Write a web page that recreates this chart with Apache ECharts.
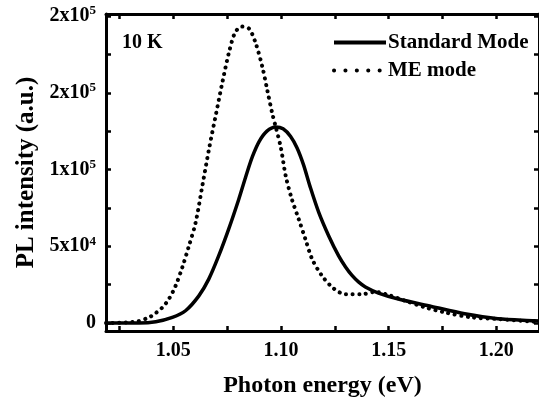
<!DOCTYPE html>
<html>
<head>
<meta charset="utf-8">
<script src="https://cdn.jsdelivr.net/npm/echarts@6/dist/echarts.min.js"></script>
<style>html,body{margin:0;padding:0;background:#fff;}#c{width:539px;height:403px;}</style>
</head>
<body>
<div id="c"></div>
<script>
// ---- data ----
var energyStd = [1.0188, 1.0342, 1.0419, 1.0496, 1.0557, 1.0619, 1.0665, 1.0711, 1.0757, 1.0804, 1.0836, 1.0868, 1.0900, 1.0935, 1.0976, 1.1010, 1.1045, 1.1075, 1.1105, 1.1135, 1.1176, 1.1222, 1.1268, 1.1300, 1.1330, 1.1360, 1.1392, 1.1453, 1.1545, 1.1699, 1.1853, 1.2007, 1.2177, 1.2198];
var intensityStd = [0, 0, 850, 3700, 8000, 17700, 28600, 43700, 61000, 80500, 95000, 108500, 118500, 125000, 127700, 126500, 121500, 114000, 103000, 89000, 71900, 56700, 43700, 36500, 31000, 26800, 23500, 19500, 15600, 10800, 6000, 2800, 1500, 1300];

var energyME = [1.0188, 1.0327, 1.0388, 1.0419, 1.0450, 1.0480, 1.0511, 1.0542, 1.0573, 1.0604, 1.0636, 1.0668, 1.0699, 1.0730, 1.0761, 1.0788, 1.0819, 1.0853, 1.0884, 1.0914, 1.0937, 1.0960, 1.0976, 1.0999, 1.1022, 1.1050, 1.1083, 1.1114, 1.1145, 1.1191, 1.1245, 1.1299, 1.1376, 1.1438, 1.1500, 1.1576, 1.1669, 1.1761, 1.1884, 1.2007, 1.2177, 1.2198];
var intensityME = [0, 850, 3700, 6500, 10200, 15600, 24200, 36200, 50200, 65400, 90000, 114700, 136400, 158000, 177500, 189400, 193100, 191600, 181800, 166700, 151500, 136400, 127700, 114700, 96000, 81000, 67500, 54500, 41600, 30700, 22500, 18800, 18800, 20300, 18200, 14500, 10200, 6900, 3700, 2600, 850, 700];

var xTickValues = [1.025, 1.05, 1.075, 1.10, 1.125, 1.15, 1.175, 1.20];
var xLabelValues = [1.05, 1.10, 1.15, 1.20];
var yTickValues = [0, 25000, 50000, 75000, 100000, 125000, 150000, 175000, 200000];
var yLabelValues = [0, 50000, 100000, 150000, 200000];
var yLabelTexts = ['0', '5x10{sup|4}', '1x10{sup|5}', '2x10{sup|5}', '2x10{sup|5}'];
var seriesNames = ['Standard Mode', 'ME mode'];
var annotation = '10 K';

function pairs(xs, ys) { return xs.map(function (x, i) { return [x, ys[i]]; }); }

var FONT = "'Liberation Serif', 'Times New Roman', serif";
function axLine() { return { show: true, onZero: false, lineStyle: { color: '#000', width: 3 } }; }
function axTick(vals) { return { show: true, inside: true, length: 5, customValues: vals, lineStyle: { color: '#000', width: 2.5 } }; }
var solidStyle = { color: '#000', width: 3.5 };
var dotStyle = { color: '#000', width: 4, type: [0.1, 6.5], cap: 'round' };

var chart = echarts.init(document.getElementById('c'), null, { renderer: 'canvas' });
chart.setOption({
  animation: false,
  backgroundColor: '#fff',
  title: {
    text: annotation, left: 122, top: 33, padding: 0,
    textStyle: { fontFamily: FONT, fontWeight: 'bold', fontSize: 20, color: '#000' }
  },
  legend: {
    orient: 'vertical', left: 332, top: 32, itemGap: 7, padding: 0,
    itemWidth: 52, itemHeight: 12,
    itemStyle: { opacity: 0 },
    data: [
      { name: seriesNames[0], lineStyle: { color: '#000', width: 4 } },
      { name: seriesNames[1], lineStyle: { color: '#000', width: 4, type: [0.1, 11.3], cap: 'round' } }
    ],
    textStyle: { fontFamily: FONT, fontWeight: 'bold', fontSize: 21, color: '#000', padding: [0, 0, 0, -3] }
  },
  grid: { left: 106, right: -2, top: 14, bottom: 71, containLabel: false },
  xAxis: [{
    type: 'value', min: 1.0188, max: 1.2198, position: 'bottom',
    name: 'Photon energy (eV)', nameLocation: 'middle', nameGap: 43,
    nameTextStyle: { fontFamily: FONT, fontWeight: 'bold', fontSize: 24, color: '#000' },
    axisLine: axLine(),
    axisTick: axTick(xTickValues),
    axisLabel: { show: true, customValues: xLabelValues, margin: 10,
      formatter: function (v) { return Number(v).toFixed(2); },
      fontFamily: FONT, fontWeight: 'bold', fontSize: 20, color: '#000' },
    splitLine: { show: false }
  }, {
    type: 'value', min: 1.0188, max: 1.2198, position: 'top',
    axisLine: axLine(),
    axisTick: axTick(xTickValues),
    axisLabel: { show: false }, splitLine: { show: false }
  }],
  yAxis: [{
    type: 'value', min: -5200, max: 201300, position: 'left',
    name: 'PL intensity (a.u.)', nameLocation: 'middle', nameGap: 67,
    nameTextStyle: { fontFamily: FONT, fontWeight: 'bold', fontSize: 25, color: '#000' },
    axisLine: axLine(),
    axisTick: axTick(yTickValues),
    axisLabel: { show: true, customValues: yLabelValues, margin: 10,
      formatter: function (v) {
        var i = yLabelValues.indexOf(Number(v));
        return i >= 0 ? yLabelTexts[i] : '';
      },
      fontFamily: FONT, fontWeight: 'bold', fontSize: 20, color: '#000',
      rich: { sup: { fontFamily: FONT, fontWeight: 'bold', fontSize: 13, color: '#000', verticalAlign: 'top', padding: [0, 0, 10, 0] } }
    },
    splitLine: { show: false }
  }, {
    type: 'value', min: -5200, max: 201300, position: 'right',
    axisLine: axLine(),
    axisTick: axTick(yTickValues),
    axisLabel: { show: false }, splitLine: { show: false }
  }],
  series: [{
    name: seriesNames[0], type: 'line', smooth: 0.3, symbol: 'none',
    xAxisIndex: 0, yAxisIndex: 0,
    data: pairs(energyStd, intensityStd),
    lineStyle: solidStyle,
    itemStyle: { color: '#000' }
  }, {
    name: seriesNames[1], type: 'line', smooth: 0.3, symbol: 'none',
    xAxisIndex: 0, yAxisIndex: 0,
    data: pairs(energyME, intensityME),
    lineStyle: dotStyle,
    itemStyle: { color: '#000' }
  }]
});
</script>
</body>
</html>
